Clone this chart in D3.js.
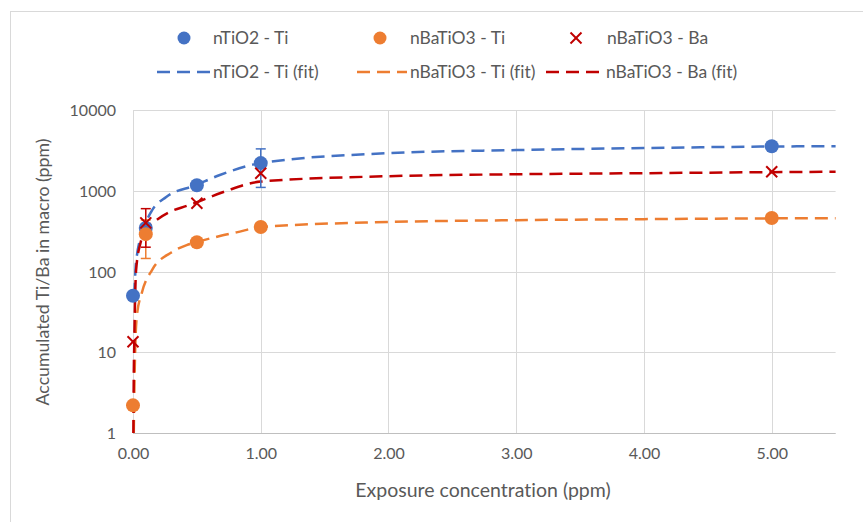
<!DOCTYPE html>
<html><head><meta charset="utf-8">
<script src="https://cdn.jsdelivr.net/npm/d3@7"></script>
<style>body{margin:0;background:#fff;} svg{display:block;font-family:Lato,'Open Sans',sans-serif;font-variant-ligatures:none;font-feature-settings:"liga" 0;}</style>
</head><body><svg id="c" width="863" height="522"></svg>
<script>
// ---- data ----
const exposure = [0, 0.1, 0.5, 1, 5];
const tio2Ti = [50, 345, 1170, 2200, 3560];
const batio3Ti = [2.2, 290, 230, 355, 460];
const batio3Ba = [13.5, 400, 700, 1650, 1720];
const tio2TiErr = [0, 0, 0, 1100, 0];
const batio3TiErr = [0, 145, 0, 0, 0];
const batio3BaErr = [0, 200, 0, 0, 0];

const fitTio2X = [0.01, 0.024, 0.086, 0.141, 0.26, 0.49, 0.68, 1, 2, 3, 4, 5, 5.5];
const fitTio2Y = [50, 131, 346, 545, 837, 1170, 1567, 2200, 2920, 3190, 3380, 3530, 3560];
const fitBaTiX = [0.006, 0.01, 0.018, 0.03, 0.07, 0.15, 0.3, 0.42, 0.5, 0.68, 0.81, 1, 2, 3, 4, 5, 5.5];
const fitBaTiY = [1, 3, 12, 28, 55, 105, 172, 212, 232, 275, 305, 355, 410, 432, 445, 455, 458];
const fitBaBaX = [0.003, 0.006, 0.01, 0.024, 0.06, 0.1, 0.18, 0.28, 0.42, 0.5, 0.6, 0.68, 0.75, 1, 2, 3, 4, 5, 5.5];
const fitBaBaY = [1, 5, 13.5, 103, 230, 330, 430, 540, 650, 720, 830, 930, 1020, 1300, 1515, 1600, 1650, 1700, 1720];

const xTicks = [0, 1, 2, 3, 4, 5];
const yTicks = [1, 10, 100, 1000, 10000];
const legendMarkers = ["nTiO2 - Ti", "nBaTiO3 - Ti", "nBaTiO3 - Ba"];
const legendFits = ["nTiO2 - Ti (fit)", "nBaTiO3 - Ti (fit)", "nBaTiO3 - Ba (fit)"];
const xTitle = "Exposure concentration (ppm)";
const yTitle = "Accumulated Ti/Ba in macro (ppm)";

// ---- styles ----
const BLUE = "#4472C4", ORANGE = "#ED7D31", RED = "#C00000";
const TXT = "#595959", GRID = "#D9D9D9";
const DASH = "13,7";

const svg = d3.select("#c");
svg.append("rect").attr("x", 10.5).attr("y", 11.5).attr("width", 900).attr("height", 600)
  .attr("fill", "#fff").attr("stroke", GRID);

const x = d3.scaleLinear().domain([0, 5.5]).range([133, 835.6]);
const y = d3.scaleLog().domain([1, 10000]).range([433, 110]);

// grid
const g = svg.append("g");
g.selectAll(".hg").data(yTicks).join("line")
  .attr("x1", x(0)).attr("x2", x(5.5)).attr("y1", d => Math.round(y(d)) + 0.5).attr("y2", d => Math.round(y(d)) + 0.5)
  .attr("stroke", GRID).attr("stroke-width", 1);
g.selectAll(".vg").data(xTicks).join("line")
  .attr("x1", d => Math.round(x(d)) + 0.5).attr("x2", d => Math.round(x(d)) + 0.5)
  .attr("y1", y(10000)).attr("y2", y(1))
  .attr("stroke", GRID).attr("stroke-width", 1);
svg.append("line").attr("x1", x(0)).attr("x2", x(5.5)).attr("y1", Math.round(y(1)) + 0.5).attr("y2", Math.round(y(1)) + 0.5)
  .attr("stroke", "#BFBFBF").attr("stroke-width", 1);

// axes
const xAxis = d3.axisBottom(x).tickValues(xTicks).tickFormat(d3.format(".2f")).tickSize(0).tickPadding(0);
const xa = svg.append("g").attr("transform", `translate(0,${y(1) + 20})`).call(xAxis);
xa.select(".domain").remove();
xa.selectAll("text").attr("fill", TXT).attr("font-size", 16).attr("font-family", "Lato").attr("dy", "0.35em").attr("y", 0);

const yAxis = d3.axisLeft(y).tickValues(yTicks).tickFormat(d3.format("d")).tickSize(0).tickPadding(0);
const ya = svg.append("g").attr("transform", `translate(${116},0)`).call(yAxis);
ya.select(".domain").remove();
ya.selectAll("text").attr("fill", TXT).attr("font-size", 16).attr("font-family", "Lato").attr("x", 0).attr("dy", "0.35em");

// titles
svg.append("text").attr("x", 483).attr("y", 490).attr("text-anchor", "middle").attr("dy", "0.35em")
  .attr("fill", TXT).attr("font-size", 19.5).text(xTitle);
svg.append("text").attr("transform", "translate(43,272) rotate(-90)").attr("text-anchor", "middle").attr("dy", "0.35em")
  .attr("fill", TXT).attr("font-size", 17.7).text(yTitle);

// fit lines
const line = d3.line().x(d => x(d[0])).y(d => y(d[1])).curve(d3.curveMonotoneX);
const fits = [
  {xs: fitTio2X, ys: fitTio2Y, c: BLUE},
  {xs: fitBaTiX, ys: fitBaTiY, c: ORANGE},
  {xs: fitBaBaX, ys: fitBaBaY, c: RED}
];
fits.forEach(f => {
  svg.append("path").datum(f.xs.map((v, i) => [v, f.ys[i]]))
    .attr("d", line).attr("fill", "none").attr("stroke", f.c).attr("stroke-width", 2.5)
    .attr("stroke-dasharray", DASH);
});

// error bars
const errs = [
  {vals: tio2Ti, err: tio2TiErr, c: BLUE},
  {vals: batio3Ti, err: batio3TiErr, c: ORANGE},
  {vals: batio3Ba, err: batio3BaErr, c: RED}
];
errs.forEach(s => {
  exposure.forEach((ex, i) => {
    if (!s.err[i]) return;
    const cx = x(ex), top = y(s.vals[i] + s.err[i]), bot = y(Math.max(1, s.vals[i] - s.err[i]));
    svg.append("line").attr("x1", cx).attr("x2", cx).attr("y1", top).attr("y2", bot).attr("stroke", s.c).attr("stroke-width", 1.5);
    [top, bot].forEach(yy => svg.append("line").attr("x1", cx - 5).attr("x2", cx + 5).attr("y1", yy).attr("y2", yy)
      .attr("stroke", s.c).attr("stroke-width", 1.5));
  });
});

// markers
function drawX(sel, cx, cy, r) {
  sel.append("line").attr("x1", cx - r).attr("x2", cx + r).attr("y1", cy - r).attr("y2", cy + r).attr("stroke", RED).attr("stroke-width", 2);
  sel.append("line").attr("x1", cx - r).attr("x2", cx + r).attr("y1", cy + r).attr("y2", cy - r).attr("stroke", RED).attr("stroke-width", 2);
}
svg.append("g").selectAll("circle").data(exposure.map((e, i) => [e, tio2Ti[i]])).join("circle")
  .attr("cx", d => x(d[0])).attr("cy", d => y(d[1])).attr("r", 7).attr("fill", BLUE);
svg.append("g").selectAll("circle").data(exposure.map((e, i) => [e, batio3Ti[i]])).join("circle")
  .attr("cx", d => x(d[0])).attr("cy", d => y(d[1])).attr("r", 7).attr("fill", ORANGE);
const mx = svg.append("g");
exposure.forEach((e, i) => drawX(mx, x(e), y(batio3Ba[i]), 5.5));

// legend
const leg = svg.append("g").attr("font-size", 17.5).attr("fill", TXT);
const row1 = [{mx: 184, tx: 213, c: BLUE, t: "c"}, {mx: 380, tx: 410, c: ORANGE, t: "c"}, {mx: 576, tx: 607, c: RED, t: "x"}];
row1.forEach((r, i) => {
  if (r.t === "c") leg.append("circle").attr("cx", r.mx).attr("cy", 38).attr("r", 6.5).attr("fill", r.c);
  else drawX(leg, r.mx, 38, 5.5);
  leg.append("text").attr("x", r.tx).attr("y", 38).attr("dy", "0.35em").text(legendMarkers[i]);
});
const row2 = [{x1: 157, x2: 210, tx: 213, c: BLUE}, {x1: 357, x2: 407, tx: 410, c: ORANGE}, {x1: 546, x2: 602, tx: 606, c: RED}];
row2.forEach((r, i) => {
  leg.append("line").attr("x1", r.x1).attr("x2", r.x2).attr("y1", 72).attr("y2", 72)
    .attr("stroke", r.c).attr("stroke-width", 2.5).attr("stroke-dasharray", DASH);
  leg.append("text").attr("x", r.tx).attr("y", 72).attr("dy", "0.35em").text(legendFits[i]);
});
</script></body></html>
